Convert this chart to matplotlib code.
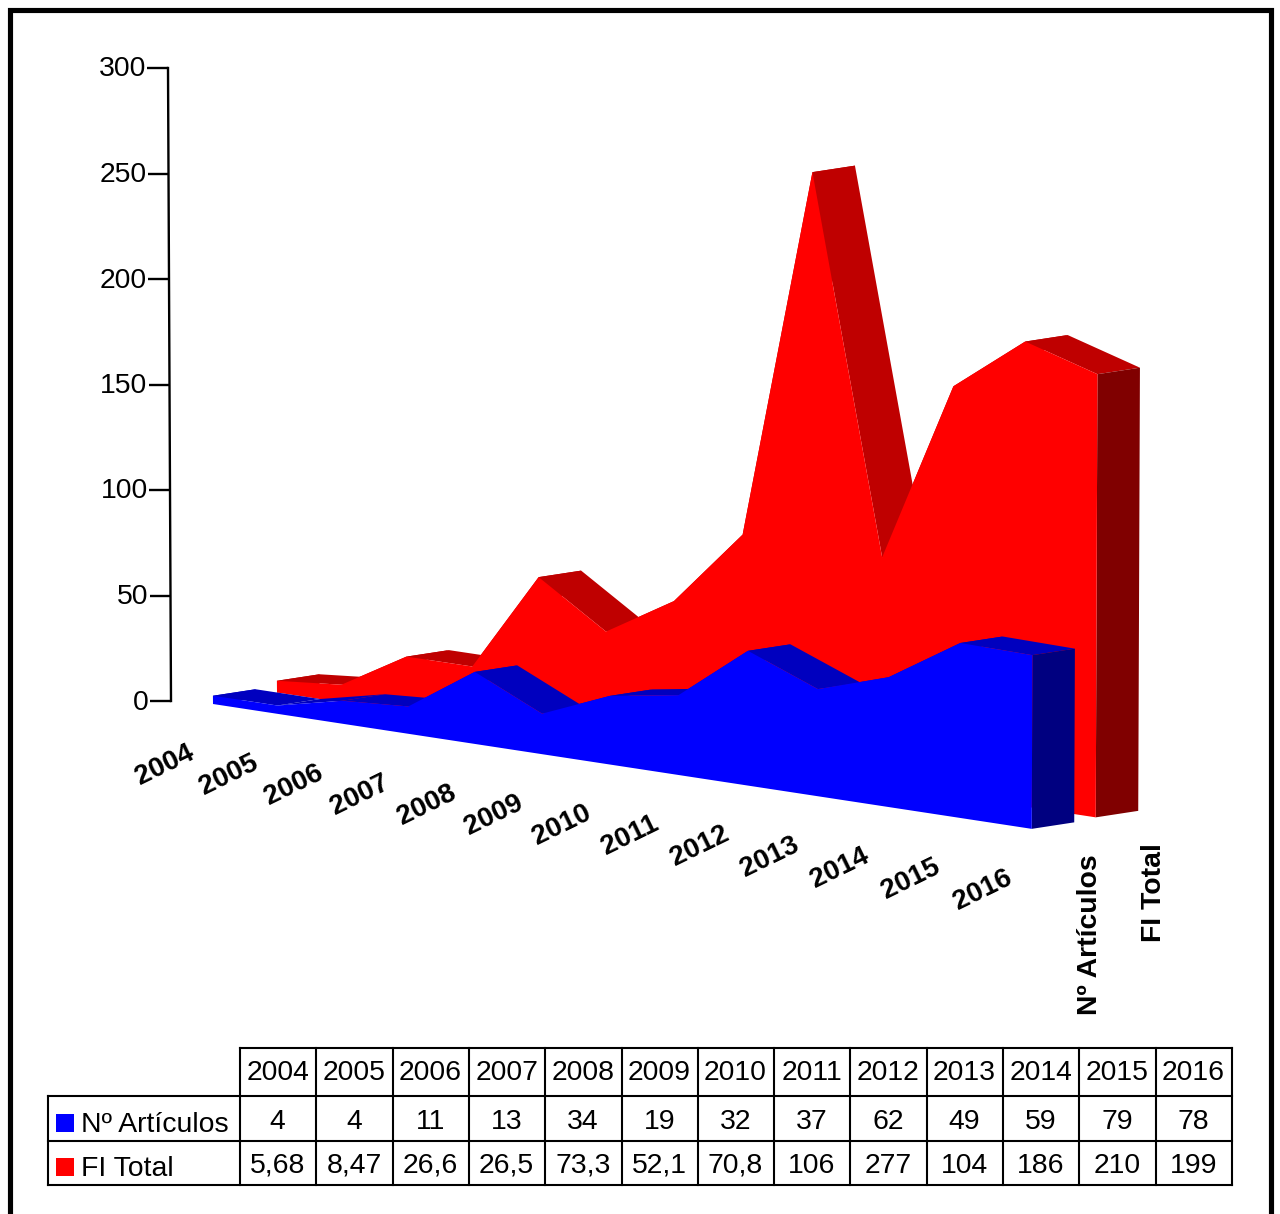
#!/usr/bin/env python3
import matplotlib
matplotlib.use("Agg")
import matplotlib.pyplot as plt
from matplotlib.patches import Polygon, Rectangle

plt.rcParams["font.family"] = ["Liberation Sans", "DejaVu Sans"]

years = [2004, 2005, 2006, 2007, 2008, 2009, 2010, 2011, 2012, 2013, 2014, 2015, 2016]
articulos = [4, 4, 11, 13, 34, 19, 32, 37, 62, 49, 59, 79, 78]
fiTotal = [5.68, 8.47, 26.6, 26.5, 73.3, 52.1, 70.8, 106, 277, 104, 186, 210, 199]
axisTicks = [0, 50, 100, 150, 200, 250, 300]
seriesNames = ["Nº Artículos", "FI Total"]

# fake 3d view, everything in image pixels
def frontX(i):
    return 213 + 64.1 * i + 0.344 * i * i

def project(i, value, depth=(0, 0)):
    x = frontX(i)
    base = 704 + 0.1525 * (x - 213)
    height = value * (2.065 + 0.0135 * i)
    lean = -0.0047 + (x - 170) * 0.0092 / 927
    return (x + lean * height + depth[0], base - height + depth[1])

THICK = (42.5, -6.5)
RED_OFF = (64, -11.5)

def addDepth(a, b):
    return (a[0] + b[0], a[1] + b[1])

def drawSeries(ax, values, off, front, top, side):
    n = len(values)
    tops = [project(i, values[i], off) for i in range(n)]
    bases = [project(i, 0, off) for i in range(n)]
    for i in range(n - 1):
        ax.add_patch(Polygon([tops[i], tops[i + 1], addDepth(tops[i + 1], THICK), addDepth(tops[i], THICK)],
                             closed=True, fc=top, ec="none"))
    ax.add_patch(Polygon([tops[-1], bases[-1], addDepth(bases[-1], THICK), addDepth(tops[-1], THICK)],
                         closed=True, fc=side, ec="none"))
    left = Polygon([tops[0], bases[0], addDepth(bases[0], THICK), addDepth(tops[0], THICK)],
                   closed=True, fc=top, ec="none")
    ax.add_patch(left)
    ax.add_patch(Polygon(tops + bases[::-1], closed=True, fc=front, ec="none"))

fig = plt.figure(figsize=(12.8, 12.14), dpi=100)
ax = fig.add_axes([0, 0, 1, 1])
ax.set_xlim(0, 1280)
ax.set_ylim(1214, 0)
ax.axis("off")

# outer frame, open at the bottom
ax.plot([9.5, 9.5, 1270.5, 1270.5], [1214, 10, 10, 1214], color="black", lw=3.7, solid_joinstyle="miter")

# value axis
ax.plot([171, 168], [701, 68], color="black", lw=1.7)
for v in axisTicks:
    y = 701 - v * 633 / 300
    x = 171 - v * 3 / 300
    ax.plot([x - 21, x], [y, y], color="black", lw=1.7, solid_capstyle="butt")
    ax.text(x - 22, y + 1.5, str(v), ha="right", va="center", fontsize=20.4)

drawSeries(ax, fiTotal, RED_OFF, "#ff0000", "#bf0000", "#800000")
drawSeries(ax, articulos, (0, 0), "#0000ff", "#0000bf", "#000080")

# category labels along the floor
for i in range(len(years)):
    bx, by = project(i, 0)
    ax.text(bx - 48.5, by + 61, str(years[i]), ha="center", va="center", rotation=26,
            rotation_mode="anchor", fontsize=20, fontweight="bold")

for name, off in zip(seriesNames, [(0, 0), RED_OFF]):
    bx, by = project(len(years) - 1, 0, off)
    ax.text(bx + 58, by + 26, name, ha="center", va="top", rotation=90, fontsize=20.4, fontweight="bold")

# data table
colX = [240 + i * (1232 - 240) / 13 for i in range(14)]
rowY = [1048, 1096, 1141, 1185]
lineKw = dict(color="black", lw=1.5, solid_capstyle="projecting")
ax.plot([colX[0], colX[-1]], [rowY[0], rowY[0]], **lineKw)
for y in rowY[1:]:
    ax.plot([48, colX[-1]], [y, y], **lineKw)
for x in colX:
    ax.plot([x, x], [rowY[0], rowY[-1]], **lineKw)
ax.plot([48, 48], [rowY[1], rowY[-1]], **lineKw)

def cellText(v):
    return str(v).replace(".", ",")

for i in range(len(years)):
    cx = (colX[i] + colX[i + 1]) / 2 - 0.5
    ax.text(cx, 1073, str(years[i]), ha="center", va="center", fontsize=20.4)
    ax.text(cx, 1122, cellText(articulos[i]), ha="center", va="center", fontsize=20.4)
    ax.text(cx, 1166, cellText(fiTotal[i]), ha="center", va="center", fontsize=20.4)

for name, color, y, ty in zip(seriesNames, ["#0000ff", "#ff0000"], [1123, 1167], [1125, 1169]):
    ax.add_patch(Rectangle((56, y - 9), 18, 18, fc=color, ec="none"))
    ax.text(81, ty, name, ha="left", va="center", fontsize=20.4)

fig.savefig("out.png", dpi=100)
